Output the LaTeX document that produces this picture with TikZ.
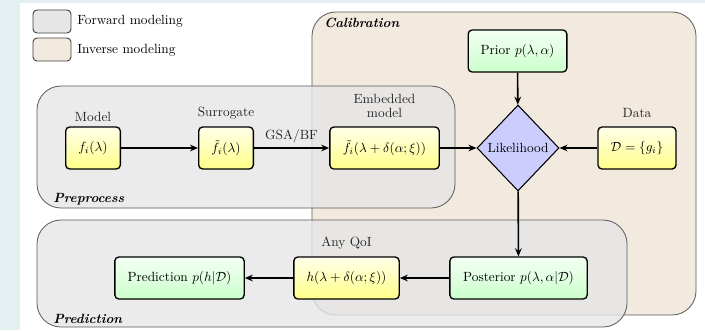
\documentclass[tikz,border=0pt]{standalone}
\usetikzlibrary{shapes.geometric,arrows.meta}
\definecolor{bgblue}{HTML}{E3EFF1}
\definecolor{fwdgray}{HTML}{E6E6E6}
\definecolor{invbeige}{HTML}{F2E9DF}
\definecolor{yelTop}{HTML}{FFFFEA}
\definecolor{yelBot}{HTML}{FFFF88}
\definecolor{grnTop}{HTML}{F4FFF4}
\definecolor{grnBot}{HTML}{CCFFCC}
\definecolor{diafill}{HTML}{CCCCFF}
\tikzset{
  grp/.style={draw=black!65, line width=0.6pt, rounded corners=18pt},
  legbox/.style={draw=black!75, line width=0.7pt, rounded corners=3pt},
  ybox/.style={draw, line width=1pt, rounded corners=3pt, top color=yelTop, bottom color=yelBot, minimum height=31.5pt, inner sep=2pt},
  gbox/.style={draw, line width=1pt, rounded corners=3pt, top color=grnTop, bottom color=grnBot, minimum height=31.5pt, inner sep=2pt},
  lbl/.style={text=black!85, align=center, inner sep=1pt},
  grplbl/.style={font=\bfseries\itshape, inner sep=0pt},
  arr/.style={-{Stealth[length=6pt,width=5pt]}, line width=1.2pt}
}
\begin{document}
\begin{tikzpicture}[x=0.75pt,y=-0.75pt]
\useasboundingbox (0,0) rectangle (705,330);
\fill[bgblue] (0,0) rectangle (705,330);
\fill[white] (20,3) rectangle (705,330);
% legend
\draw[legbox, fill=fwdgray] (33,10) rectangle (71,33);
\node[anchor=west, inner sep=0pt] (legf) at (77,21) {Forward modeling};
\draw[legbox, fill=invbeige] (33,38) rectangle (71,61);
\node[anchor=west, inner sep=0pt] (legi) at (77,50) {Inverse modeling};
% groups
\draw[grp, fill=invbeige] (312,12) rectangle (696,315);
\node[grplbl, anchor=west] (calib) at (324,23) {Calibration};
\draw[grp, fill=fwdgray, fill opacity=0.8] (37,86) rectangle (455,208);
\node[grplbl, anchor=west] (prep) at (53,199) {Preprocess};
\draw[grp, fill=fwdgray, fill opacity=0.8] (37,220) rectangle (627,327);
\node[grplbl, anchor=west] (pred) at (53,319) {Prediction};
% nodes
\node[ybox, minimum width=41pt] (model) at (93,148) {$f_i(\lambda)$};
\node[lbl] at (93,117) {Model};
\node[ybox, minimum width=41pt] (surr) at (226,148) {$\tilde{f}_i(\lambda)$};
\node[lbl] at (226,113) {Surrogate};
\node[ybox, minimum width=82pt] (emb) at (384.5,148) {$\tilde{f}_i(\lambda+\delta(\alpha;\xi))$};
\node[lbl] at (384.5,106) {Embedded\\[-2pt]model};
\node[draw, line width=0.8pt, diamond, fill=diafill, minimum width=61.5pt, minimum height=64.5pt, inner sep=0pt] (lik) at (518,148) {Likelihood};
\node[ybox, minimum width=58.5pt] (data) at (637,148) {$\mathcal{D}=\{g_i\}$};
\node[lbl] at (637,113) {Data};
\node[gbox, minimum width=74pt] (prior) at (517.5,51) {Prior $p(\lambda,\alpha)$};
\node[gbox, minimum width=103pt] (post) at (518.5,278) {Posterior $p(\lambda,\alpha|\mathcal{D})$};
\node[ybox, minimum width=79pt] (hq) at (346.5,278) {$h(\lambda+\delta(\alpha;\xi))$};
\node[lbl] at (346.5,243) {Any QoI};
\node[gbox, minimum width=97pt] (predp) at (179.5,278) {Prediction $p(h|\mathcal{D})$};
% arrows
\draw[arr] (model) -- (surr);
\draw[arr] (surr) -- node[above, lbl, yshift=2pt] {GSA/BF} (emb);
\draw[arr] (emb) -- (lik);
\draw[arr] (data) -- (lik);
\draw[arr] (prior) -- (lik);
\draw[arr] (lik) -- (post);
\draw[arr] (post) -- (hq);
\draw[arr] (hq) -- (predp);
\end{tikzpicture}
\end{document}
